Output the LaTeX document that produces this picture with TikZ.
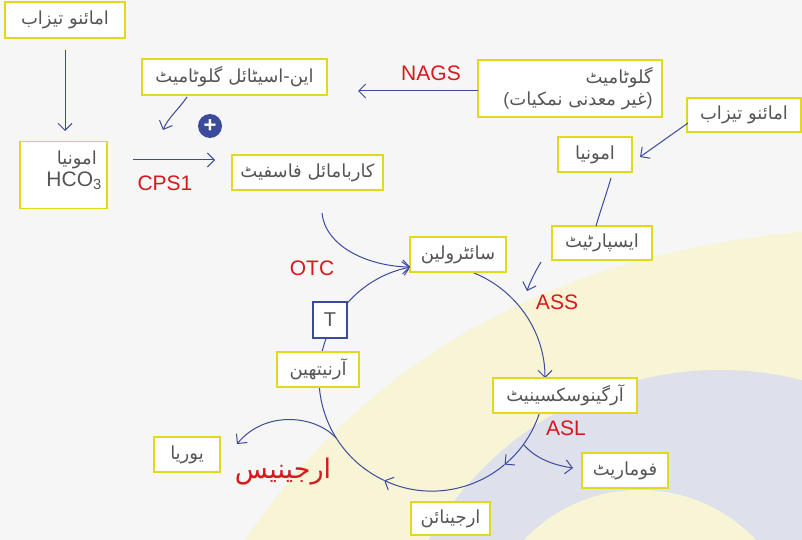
\documentclass[tikz,border=0pt]{standalone}
\usepackage{fontspec}
\setmainfont{Liberation Sans}
\newfontfamily\urfont[Script=Arabic]{DejaVu Sans}
\TeXXeTstate=1
\usetikzlibrary{arrows.meta}
\definecolor{bgc}{HTML}{F6F6F6}
\definecolor{yel}{HTML}{F7F5D6}
\definecolor{bgr}{HTML}{DEE1EC}
\definecolor{bx}{HTML}{E1D91C}
\definecolor{arr}{HTML}{3C4A9C}
\definecolor{rd}{HTML}{D7191F}
\definecolor{tx}{HTML}{555555}
\newcommand{\ur}[1]{{\urfont\beginR #1\endR}}
\begin{document}
\begin{tikzpicture}[x=1pt,y=-1pt,
 box/.style={draw=bx, line width=1.6pt, fill=white, text=tx, font=\fontsize{18}{22}\selectfont, inner sep=0pt, minimum height=35pt},
 lab/.style={text=rd, font=\fontsize{21}{24}\selectfont},
 ar/.style={draw=arr, line width=1pt, -{Straight Barb[length=7pt,width=14pt]}},
 ln/.style={draw=arr, line width=1pt}]
\useasboundingbox (0,0) rectangle (802,540);
\fill[bgc] (0,0) rectangle (802,540);
\fill[yel] (245,540) .. controls (360,370) and (540,255) .. (802,232) -- (802,540) -- cycle;
\begin{scope}
\clip (0,0) rectangle (802,540);
\fill[bgr] (720,705) circle (335);
\fill[yel] (640,650) circle (160);
\end{scope}

% coordinates on the cycle
\coordinate (c0) at (474,273);
\coordinate (c1) at (545,378);
\coordinate (c2) at (539.5,412.9);
\coordinate (c3) at (504.6,464.6);
\coordinate (c4) at (384.2,480.4);
\coordinate (c5) at (319.4,387.8);
\coordinate (c6) at (322,352);
\coordinate (c7) at (410.4,267.1);
\coordinate (cb) at (523.4,444.4);
\coordinate (cu) at (336,438);

\draw[ar] (c0) .. controls +(42.7,17.3) and +(0,-46.1) .. (c1);
\draw[ar] (c2) .. controls +(-6.6,20.2) and +(16.2,-13.6) .. (c3);
\draw[ar] (c3) .. controls +(-33.6,28.2) and +(39.8,18.6) .. (c4);
\draw[ln] (c4) .. controls +(-36.6,-17.1) and +(3.5,40.2) .. (c5);
\draw[ar] (c6) .. controls +(10.2,-43.2) and +(-43.6,8.5) .. (c7);

% nodes
\node[box, minimum width=120pt, minimum height=36pt] (aa1) at (65,20) {\ur{امائنو تیزاب}};
\node[box, minimum width=185pt, minimum height=36pt] (nag) at (234.5,77) {\ur{این-اسیٹائل گلوٹامیٹ}};
\node[box, minimum width=184pt, minimum height=57pt] (glu) at (570,88.5) {};
\node[anchor=east, text=tx, font=\fontsize{18}{22}\selectfont, align=right, inner sep=0pt] (glut) at ([xshift=-10pt]glu.east) {\ur{گلوٹامیٹ}\\(\ur{غیر معدنی نمکیات})};
\node[box, minimum width=114pt, minimum height=34pt] (aa2) at (744,115) {\ur{امائنو تیزاب}};
\node[box, minimum width=87pt, minimum height=67pt] (amh) at (63.5,175) {};
\node[anchor=north east, text=tx, font=\fontsize{18}{22}\selectfont, inner sep=0pt] (amht) at (97,151) {\ur{امونیا}};
\node[anchor=north east, text=tx, font=\fontsize{21}{24}\selectfont, inner sep=0pt] (hco) at (102,172) {HCO$_{\mathrm{3}}$};
\node[box, minimum width=151pt] (cp) at (307.5,172.5) {\ur{کاربامائل فاسفیٹ}};
\node[box, minimum width=74pt] (am2) at (595,154.5) {\ur{امونیا}};
\node[box, minimum width=100pt, minimum height=34pt] (asp) at (602,243) {\ur{ایسپارٹیٹ}};
\node[box, minimum width=96pt] (cit) at (458,254.5) {\ur{سائٹرولین}};
\node[box, draw=arr, line width=1.2pt, minimum width=34pt, minimum height=36pt, font=\fontsize{20}{22}\selectfont] (tt) at (330,320) {T};
\node[box, minimum width=82pt] (orn) at (318,369.5) {\ur{آرنیتھین}};
\node[box, minimum width=144pt] (asa) at (565,395.5) {\ur{آرگینوسکسینیٹ}};
\node[box, minimum width=86pt] (fum) at (625,470.5) {\ur{فوماریٹ}};
\node[box, minimum width=66pt] (ure) at (187,454.5) {\ur{یوریا}};
\node[box, minimum width=79pt, minimum height=33pt] (argn) at (450.5,518.5) {\ur{ارجینائن}};

% plus sign
\node[circle, fill=arr, minimum size=24pt, inner sep=0pt, text=white, font=\bfseries\fontsize{22}{22}\selectfont] (plus) at (210,126) {+};

% labels
\node[lab] (lnags) at (431,73) {NAGS};
\node[lab] (lcps) at (165,183) {CPS1};
\node[lab] (lotc) at (312,268) {OTC};
\node[lab] (lass) at (557,302) {ASS};
\node[lab] (lasl) at (566,428) {ASL};
\node[text=rd, font=\fontsize{27}{30}\selectfont] (larg) at (283,472) {\ur{ارجینیس}};

% other connectors
\coordinate (a1s) at (65,50);
\coordinate (a1e) at (65,131);
\draw[ar] (a1s) -- (a1e);
\coordinate (gw) at (478,91);
\coordinate (ge) at (358,91);
\draw[ar] (gw) -- (ge);
\coordinate (ns) at (187,97);
\coordinate (ne) at (163,130);
\draw[ar] (ns) .. controls (178,110) and (168,118) .. (ne);
\coordinate (ps) at (133,160);
\coordinate (pe) at (215,160);
\draw[ar] (ps) -- (pe);
\coordinate (a2s) at (688,123);
\coordinate (a2e) at (640,157);
\draw[ar] (a2s) -- (a2e);
\coordinate (m2s) at (611,178);
\coordinate (m2e) at (596,226);
\draw[ln] (m2s) .. controls (606,195) and (600,212) .. (m2e);
\coordinate (ass1) at (541,262);
\coordinate (ass2) at (527,291);
\draw[ar] (ass1) .. controls (535,272) and (530,282) .. (ass2);
\coordinate (os) at (322,213);
\draw[ar] (os) .. controls (325,245) and (365,266) .. (c7);
\coordinate (fe) at (573,468);
\draw[ar] (cb) .. controls +(12,14) and +(-20,-3) .. (fe);
\coordinate (ue) at (237,444);
\draw[ar] (cu) .. controls (315,415) and (265,410) .. (ue);
\end{tikzpicture}
\end{document}
